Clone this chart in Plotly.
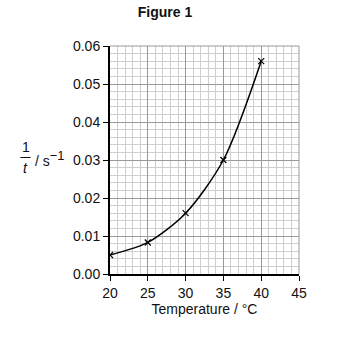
import plotly.graph_objects as go

# Rate of reaction (1/t) measured at each temperature
temperature = [20, 25, 30, 35, 40]
rate = [0.005, 0.0083, 0.016, 0.030, 0.056]

x_ticks = [20, 25, 30, 35, 40, 45]
y_ticks = [0.00, 0.01, 0.02, 0.03, 0.04, 0.05, 0.06]

font = dict(family="Liberation Sans, Arial, sans-serif", size=14, color="#111")

fig = go.Figure()

# smooth best-fit curve through the readings
fig.add_trace(go.Scatter(
    x=temperature, y=rate, mode="lines",
    line=dict(color="black", width=1.5, shape="spline", smoothing=0.8),
    hoverinfo="skip", showlegend=False,
))
# plotted points as crosses
fig.add_trace(go.Scatter(
    x=temperature, y=rate, mode="markers",
    marker=dict(symbol="x-thin", size=6, line=dict(color="black", width=1.2)),
    showlegend=False,
))

fig.update_xaxes(
    range=[20, 45], tickvals=x_ticks, ticktext=[str(v) for v in x_ticks],
    ticks="outside", ticklen=5, tickcolor="black", tickwidth=1,
    showline=True, linecolor="black", linewidth=2,
    showgrid=True, gridcolor="#9a9a9a", gridwidth=1,
    minor=dict(dtick=1, showgrid=True, gridcolor="#cfcfcf", gridwidth=1),
    zeroline=False, tickfont=font,
    title=dict(text="Temperature / °C", font=font, standoff=3),
)
fig.update_yaxes(
    range=[0, 0.06], tickvals=y_ticks, ticktext=[f"{v:.2f}" for v in y_ticks],
    ticks="outside", ticklen=5, tickcolor="black", tickwidth=1,
    showline=True, linecolor="black", linewidth=2,
    showgrid=True, gridcolor="#9a9a9a", gridwidth=1,
    minor=dict(dtick=0.002, showgrid=True, gridcolor="#cfcfcf", gridwidth=1),
    zeroline=False, tickfont=font,
)

# grey frame on top and right edges of the grid
fig.add_shape(type="line", xref="paper", yref="paper", x0=0, x1=1, y0=1, y1=1,
              line=dict(color="#9a9a9a", width=1))
fig.add_shape(type="line", xref="paper", yref="paper", x0=1, x1=1, y0=0, y1=1,
              line=dict(color="#9a9a9a", width=1))

# y-axis label written as the fraction 1/t followed by the unit
fig.add_annotation(xref="paper", yref="paper", x=-0.447, y=0.555, text="1",
                   showarrow=False, font=font, xanchor="center", yanchor="middle")
fig.add_annotation(xref="paper", yref="paper", x=-0.447, y=0.465, text="<i>t</i>",
                   showarrow=False, font=font, xanchor="center", yanchor="middle")
fig.add_shape(type="line", xref="paper", yref="paper", x0=-0.474, x1=-0.42,
              y0=0.511, y1=0.511, line=dict(color="#111", width=1))
fig.add_annotation(xref="paper", yref="paper", x=-0.405, y=0.505,
                   text="/ s<sup><span style='font-size:13px'>−1</span></sup>",
                   showarrow=False, font=font, xanchor="left", yanchor="middle")

fig.update_layout(
    width=358, height=348,
    margin=dict(l=110, r=59, t=46, b=74),
    paper_bgcolor="white", plot_bgcolor="white",
    title=dict(text="<b>Figure 1</b>", x=165 / 358, xanchor="center",
               y=1 - 12 / 348, yanchor="middle", font=font),
    font=font,
)

fig.write_html("out.html")
